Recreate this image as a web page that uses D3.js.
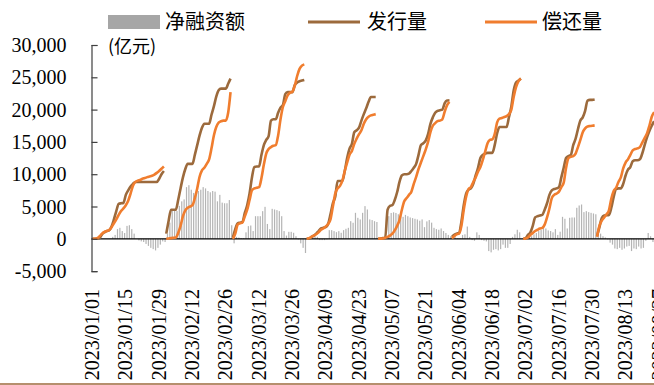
<!DOCTYPE html>
<html><head><meta charset="utf-8">
<script src="https://cdn.jsdelivr.net/npm/d3@7"></script>
<style>body{margin:0;background:#fff}svg{display:block}</style>
</head><body>
<svg id="c" width="654" height="385"></svg>
<script>
const startDate = "2023-01-01";
// cumulative within each month (亿元), one value per calendar day from 2023-01-01
const issuance = [
 0,0,50,150,700,1000,1200,1300,1900,3000,4300,5400,5500,5550,6800,7500,8100,8500,8800,8800,8800,8800,8800,8800,8800,8800,8800,8800,9300,10000,10500,
 800,2800,4500,4500,4500,6000,7800,9500,10800,11600,11600,11600,13000,14500,16000,17200,17800,17800,17800,19200,20500,22000,23000,23250,23250,23250,24000,24800,
 200,1500,2400,2500,2600,4000,5200,7000,9500,11100,11200,11200,13000,14500,15300,15900,18300,18500,18500,19500,20300,20700,22400,22700,22700,22700,23800,24200,24400,24500,24600,
 0,0,300,500,800,1200,1600,1700,1800,2300,3800,5500,6500,8950,8950,9000,10500,12500,13950,14700,16500,16800,17200,18300,19300,20200,21200,21950,21950,21950,
 0,50,100,150,4500,5100,5200,6000,7200,8800,9800,10000,10000,10100,10500,11000,11600,13000,14500,14800,15200,16200,17800,18800,19500,19800,19900,20000,21000,21400,21450,
 300,600,800,900,2600,5200,7000,7600,7800,8500,9800,11000,12500,13000,13200,13300,13300,13300,14500,16300,17300,17300,17300,17300,18850,20500,23000,24200,24500,24800,
 0,100,600,1000,2000,3300,3500,3600,3700,4500,5500,6800,7500,7700,7800,8000,9500,11000,12500,12800,13000,14500,15500,17000,18300,18800,19800,21400,21500,21500,21550,
 400,1800,3200,3600,3650,3700,4800,6500,7700,7800,7800,8500,9800,10700,11100,12000,12150,12150,12300,13200,14500,15700,16700,17500,18200
];
const repayment = [
 0,0,100,400,800,1050,1200,1350,1800,2400,3000,3700,4300,4700,5200,5900,7000,8200,8800,9000,9100,9300,9400,9550,9650,9750,9950,10200,10500,10850,11200,
 0,50,100,150,200,900,2000,3500,4400,4800,5000,5200,6300,7800,9600,10600,11000,11600,12300,14000,16000,17300,18000,18200,18300,18300,19500,22700,
 0,800,2200,2400,2500,3500,4500,6000,7500,7800,7900,8000,9400,11500,13200,13900,14200,14400,14500,16000,18500,20400,21300,22200,22600,22800,23700,25200,26300,26800,27000,
 0,100,300,500,700,1000,1400,1600,1900,2300,3000,5000,7000,7800,8200,9000,10500,11800,13000,13600,14700,15500,16200,16800,17800,18500,18900,19100,19200,19300,
 0,20,50,150,300,500,800,1300,2000,2900,4500,5800,6300,6800,7300,8500,9600,10800,11800,12800,13800,15000,16500,17500,17900,18200,18300,18500,19700,20700,21200,
 100,400,700,800,2000,4500,6500,7700,8000,8800,9500,10400,11100,12200,13500,14800,15300,15400,16200,18000,18600,18700,18850,19000,19300,20000,22000,23500,24400,24800,
 0,50,200,600,900,1200,1400,1600,1700,2200,3300,4700,6300,6800,7000,7300,8000,8700,11000,12500,12700,12800,13200,14200,15300,16500,17100,17400,17450,17500,17560,
 300,2000,2800,3300,3800,4400,6200,7400,7900,8800,9500,10900,11800,12300,13000,13700,13900,14000,14200,14900,15600,16300,17500,18900,19600
];
const netFinancing = [
 0,0,0,0,0,0,0,0,300,600,1500,1700,1200,900,2000,2100,1500,800,0,-250,-400,-500,-800,-1100,-1400,-1600,-1800,-1400,-900,-400,-500,
 800,2500,4500,4400,4300,5100,5800,6100,8000,8300,7600,7100,6900,7400,7600,8000,7800,7400,7200,7400,7300,5800,6800,5600,5500,5500,6000,2100,
 -700,300,200,100,100,1000,1960,2060,1200,3500,3500,3500,4280,4950,2300,1500,4640,4540,4440,4280,3500,1200,500,1080,1080,930,400,-100,-700,-1400,-2200,
 0,100,250,400,300,-200,-200,-200,-100,1340,1340,1190,1030,1190,930,1340,1550,1700,2730,2480,4020,3250,3000,4020,5060,4540,3000,2900,2730,2600,
 0,0,0,0,3500,4000,4100,4000,3800,3600,3400,3700,3500,3300,3200,3100,3000,2800,3000,1800,2700,2900,2500,1700,1500,1400,1600,1200,900,600,400,
 200,200,100,100,600,700,1900,300,-200,-300,1000,600,-200,-300,-400,-1900,-2100,-1700,-1600,-1800,-1600,-900,-1400,-1400,-800,300,700,1400,1000,0,
 0,0,300,400,700,900,1200,1400,1900,1600,1300,1200,1000,1500,600,1100,3400,3100,1600,3250,3300,3300,4800,5160,5310,4130,4280,4130,4020,3920,3800,
 900,800,400,200,-100,-600,-900,-1500,-1600,-1400,-1700,-1500,-1200,-1100,-1900,-1500,-1600,-1200,-1500,-1400,-300,900,400,-500,-900
];
const yTicks = [-5000,0,5000,10000,15000,20000,25000,30000];
const xTickLabels = ["2023/01/01","2023/01/15","2023/01/29","2023/02/12","2023/02/26","2023/03/12","2023/03/26","2023/04/09","2023/04/23","2023/05/07","2023/05/21","2023/06/04","2023/06/18","2023/07/02","2023/07/16","2023/07/30","2023/08/13","2023/08/27"];
const legendLabels = ["净融资额","发行量","偿还量"];
const unitLabel = "(亿元)";

const colors = {net:"#b4b4b4", legendNet:"#a6a6a6", iss:"#9c6a3c", rep:"#f07d2e"};
const serif = "'Liberation Serif','Times New Roman',serif";
const cjk = "'Noto Sans CJK SC','Noto Sans',sans-serif";

const svg = d3.select("#c");
const parseDay = d3.timeParse("%Y-%m-%d");
const parseTick = d3.timeParse("%Y/%m/%d");
const t0 = parseDay(startDate);
const dates = issuance.map((_, i) => d3.timeDay.offset(t0, i));
const tickDates = xTickLabels.map(parseTick);

const x = d3.scaleTime().domain([t0, tickDates[tickDates.length-1]]).range([92.5, 658.9]);
const y = d3.scaleLinear().domain([-5000, 30000]).range([271.1, 45]);
const dayW = x(d3.timeDay.offset(t0,1)) - x(t0);

// bars
svg.append("g").selectAll("rect").data(netFinancing).join("rect")
  .attr("x", (d,i) => x(dates[i]) + dayW*0.5 - 0.6)
  .attr("width", 1.2)
  .attr("y", d => y(Math.max(0,d)))
  .attr("height", d => Math.abs(y(d) - y(0)))
  .attr("fill", colors.net);

// zero line
svg.append("line").attr("x1", 91.5).attr("x2", 654).attr("y1", y(0)).attr("y2", y(0))
  .attr("stroke", "#000").attr("stroke-width", 1.3);

// lines per month
const idx = d3.range(dates.length);
const months = d3.groups(idx, i => dates[i].getMonth());
function drawSeries(vals, color){
  const line = d3.line().x(i => x(dates[i])).y(i => y(vals[i])).curve(d3.curveMonotoneX);
  svg.append("g").selectAll("path").data(months).join("path")
    .attr("d", m => line(m[1]))
    .attr("fill","none").attr("stroke", color).attr("stroke-width", 2.6)
    .attr("stroke-linejoin","round");
}
drawSeries(issuance, colors.iss);
drawSeries(repayment, colors.rep);

// y axis (line + inward ticks)
const yAxis = svg.append("g").attr("transform","translate(91.5,0)")
  .call(d3.axisRight(y).tickValues(yTicks).tickSize(6).tickSizeOuter(6).tickFormat(""));
yAxis.selectAll("path,line").attr("stroke","#404040").attr("stroke-width",1.2);

// y labels
const fmt = d3.format(",");
svg.append("g").selectAll("text").data(yTicks).join("text")
  .attr("x", 66.5).attr("y", d => y(d)).attr("dy","0.35em")
  .attr("text-anchor","end").attr("font-family", serif).attr("font-size", 20).attr("fill","#000")
  .text(d => fmt(d).replace("\u2212","-"));

// x labels
svg.append("g").selectAll("text").data(tickDates).join("text")
  .attr("transform", (d,i) => `translate(${x(d)},289) rotate(-90)`)
  .attr("dy","0.33em").attr("text-anchor","end")
  .attr("font-family", serif).attr("font-size", 20).attr("fill","#000")
  .text((d,i) => xTickLabels[i]);

// unit
svg.append("text").attr("x",108).attr("y",47).attr("dy","0.35em")
  .attr("font-family", cjk).attr("font-size",18).attr("fill","#000").text(unitLabel);

// legend
const lg = svg.append("g");
lg.append("rect").attr("x",108).attr("y",15).attr("width",52).attr("height",14).attr("fill",colors.legendNet);
lg.append("line").attr("x1",308).attr("x2",360).attr("y1",22).attr("y2",22).attr("stroke",colors.iss).attr("stroke-width",3);
lg.append("line").attr("x1",485).attr("x2",537).attr("y1",22).attr("y2",22).attr("stroke",colors.rep).attr("stroke-width",3);
const lx = [165, 367, 542];
lg.selectAll("text").data(legendLabels).join("text")
  .attr("x",(d,i)=>lx[i]).attr("y",22).attr("dy","0.35em")
  .attr("font-family", cjk).attr("font-size",20).attr("fill","#000").text(d=>d);

// bottom rule
svg.append("line").attr("x1",0).attr("x2",654).attr("y1",384).attr("y2",384)
  .attr("stroke","#9c6a3c").attr("stroke-width",1.5);
</script>
</body></html>
